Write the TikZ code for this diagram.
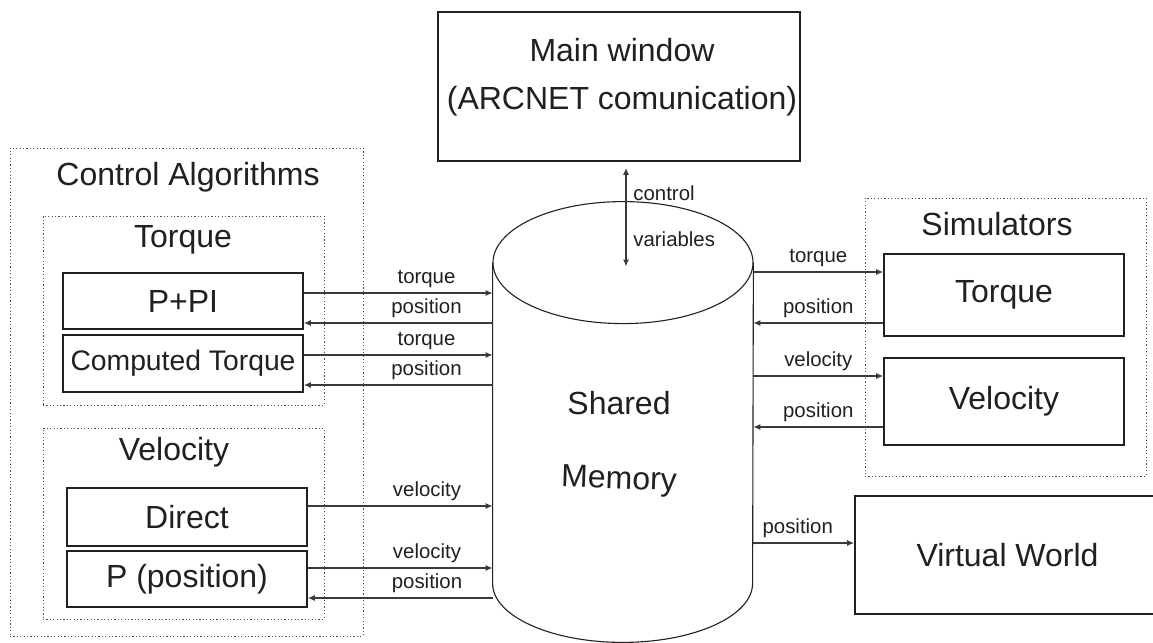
\documentclass[tikz,border=0pt]{standalone}
\usepackage{fontspec}
\setmainfont{Liberation Sans}
\usetikzlibrary{arrows.meta,positioning}
\definecolor{ink}{HTML}{231F20}
\definecolor{wire}{HTML}{3A3A3A}
\definecolor{dots}{HTML}{505050}
\tikzset{
  blk/.style={draw=ink, line width=0.8pt, inner sep=0pt, font=\fontsize{16}{19}\selectfont, text=ink},
  grp/.style={draw=dots, line width=0.5pt, dash pattern=on 0.6pt off 1.1pt, inner sep=0pt},
  grptitle/.style={font=\fontsize{16}{19}\selectfont, text=ink, inner sep=0pt},
  sig/.style={->, draw=wire, line width=0.6pt},
  lbl/.style={font=\fontsize{10.2}{12}\selectfont, text=ink, inner sep=2.5pt},
}
\begin{document}
\begin{tikzpicture}[x=0.5pt, y=-0.5pt, >={Latex[length=3.5pt,width=3pt]}]
	\fill[white] (0,0) rectangle (1153,643);
	\useasboundingbox (0,0) rectangle (1153,643);

	% dotted groups
	\node[grp, minimum width=176.5pt, minimum height=244pt] (ctrlgrp) at (186.5,392) {};
	\node[grp, minimum width=140.5pt, minimum height=94.5pt] (torqgrp) at (183.5,310.5) {};
	\node[grp, minimum width=140.5pt, minimum height=95.5pt] (velgrp) at (183.5,523.5) {};
	\node[grp, minimum width=140.5pt, minimum height=139pt] (simgrp) at (1005.5,337) {};
	\node[grptitle] (ctrltitle) at (188,177) {Control Algorithms};
	\node[grptitle] (torqtitle) at (183,240) {Torque};
	\node[grptitle] (veltitle) at (174,452) {Velocity};
	\node[grptitle] (simtitle) at (997,224) {Simulators};

	% boxes
	\node[blk, minimum width=181pt, minimum height=74.5pt] (mainwin) at (619,86.5) {};
	\node[grptitle, align=center] (mainlbl) at (622,77.7) {Main window\\[5pt](ARCNET comunication)};
	\node[blk, minimum width=120pt, minimum height=28pt] (pi) at (183,301) {P+PI};
	\node[blk, minimum width=120pt, minimum height=28.5pt, font=\fontsize{14.15}{17}\selectfont] (ct) at (183,363.5) {Computed Torque};
	\node[blk, minimum width=120pt, minimum height=29pt] (dir) at (187,517) {Direct};
	\node[blk, minimum width=120pt, minimum height=28pt] (pp) at (187,579) {P (position)};
	\node[blk, minimum width=120pt, minimum height=41pt] (storq) at (1004,295) {Torque};
	\node[blk, minimum width=120pt, minimum height=43.5pt] (svel) at (1004,401.5) {Velocity};
	\node[blk, minimum width=152.5pt, minimum height=59pt] (vw) at (1007.5,555) {Virtual World};

	% shared memory cylinder
	\node[minimum width=130pt, minimum height=160pt, inner sep=0pt] (mem) at (623,423) {};
	\draw[ink, line width=0.55pt] (mem.north west) -- (mem.south west)
		arc[start angle=180, end angle=360, x radius=65pt, y radius=29.5pt] -- (mem.north east);
	\draw[ink, line width=0.55pt] (mem.north) ellipse[x radius=65pt, y radius=30.5pt];
	\node[grptitle] (shared) at (619,403) {Shared};
	\node[grptitle, rotate=-2] (memory) at (619,481) {Memory};

	% main window <-> memory
	\draw[<->, draw=wire, line width=0.8pt] ([xshift=3.5pt,yshift=-3pt]mainwin.south) -- ([xshift=1.5pt,yshift=-2pt]mem.north);
	\node[lbl, anchor=west, inner sep=0pt] (ctrllbl) at (633,193) {control};
	\node[lbl, anchor=west, inner sep=0pt] (varlbl) at (633,239) {variables};

	% control algorithms <-> memory
	\path ([yshift=4pt]pi.east) coordinate (pi1) ([yshift=-11pt]pi.east) coordinate (pi2)
		([yshift=4.25pt]ct.east) coordinate (ct1) ([yshift=-10.75pt]ct.east) coordinate (ct2)
		([yshift=5.5pt]dir.east) coordinate (dir1)
		([yshift=5.5pt]pp.east) coordinate (pp1) ([yshift=-9.5pt]pp.east) coordinate (pp2);
	\draw[sig] (pi1) -- (pi1 -| mem.west) node[lbl, above, pos=.65] {torque};
	\draw[sig] (pi2 -| mem.west) -- (pi2) node[lbl, above, pos=.35] {position};
	\draw[sig] (ct1) -- (ct1 -| mem.west) node[lbl, above, pos=.65] {torque};
	\draw[sig] (ct2 -| mem.west) -- (ct2) node[lbl, above, pos=.35] {position};
	\draw[sig] (dir1) -- (dir1 -| mem.west) node[lbl, above, pos=.645] {velocity};
	\draw[sig] (pp1) -- (pp1 -| mem.west) node[lbl, above, pos=.645] {velocity};
	\draw[sig] (pp2 -| mem.west) -- (pp2) node[lbl, above, pos=.355] {position};

	% memory <-> simulators, virtual world
	\path ([yshift=11.5pt]storq.west) coordinate (st1) ([yshift=-14pt]storq.west) coordinate (st2)
		([yshift=12.75pt]svel.west) coordinate (sv1) ([yshift=-12.75pt]svel.west) coordinate (sv2)
		([yshift=6pt]vw.west) coordinate (vw1);
	\draw[sig] (st1 -| mem.east) -- (st1) node[lbl, above, midway] {torque};
	\draw[sig] (st2) -- (st2 -| mem.east) node[lbl, above, midway] {position};
	\draw[sig] (sv1 -| mem.east) -- (sv1) node[lbl, above, midway] {velocity};
	\draw[sig] (sv2) -- (sv2 -| mem.east) node[lbl, above, midway] {position};
	\draw[sig] (vw1 -| mem.east) -- (vw1) node[lbl, above, pos=.44] {position};
\end{tikzpicture}
\end{document}
